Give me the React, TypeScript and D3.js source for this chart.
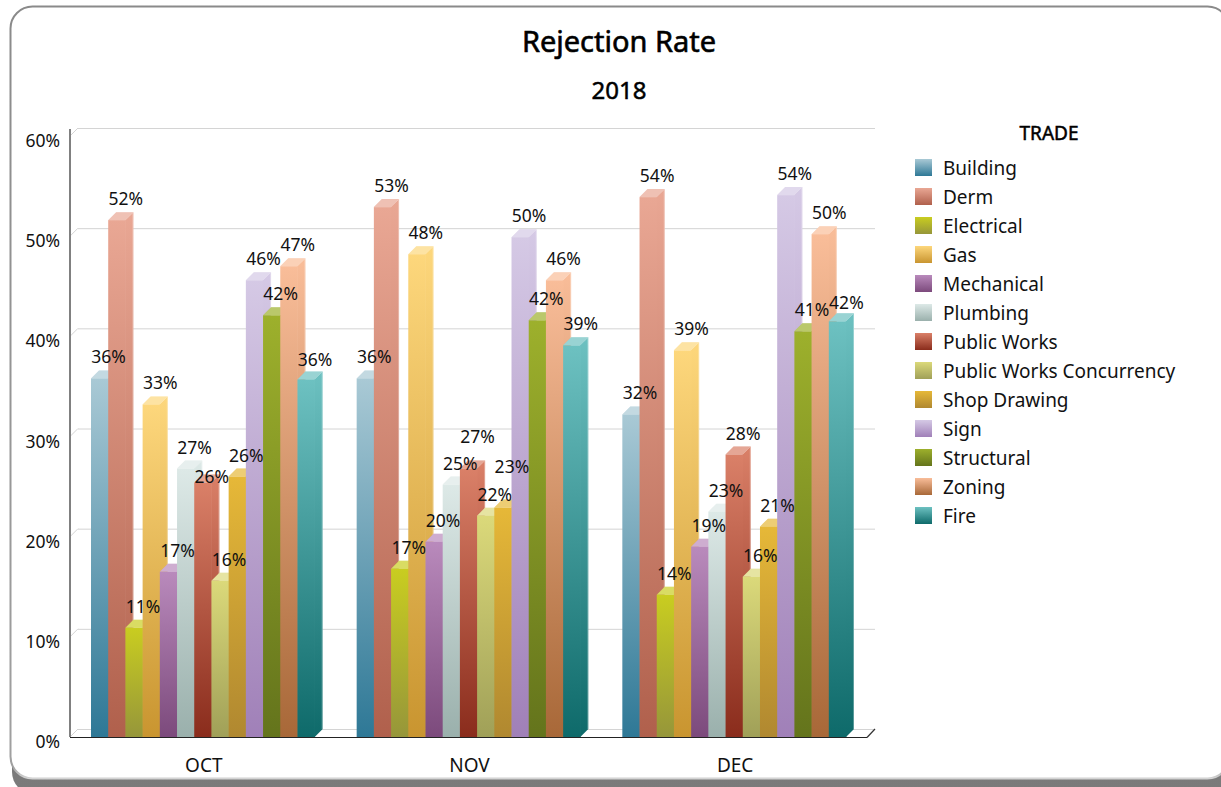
import React from "react";
import * as d3 from "d3";

const categories = ["OCT", "NOV", "DEC"];
const trades = ["Building","Derm","Electrical","Gas","Mechanical","Plumbing","Public Works","Public Works Concurrency","Shop Drawing","Sign","Structural","Zoning","Fire"];
const octValues = [35.8,51.6,10.9,33.2,16.5,26.8,25.4,15.6,26.0,45.6,42.1,47.0,35.7];
const novValues = [35.8,52.9,16.8,48.2,19.5,25.2,26.8,22.1,22.9,49.9,41.6,45.6,39.1];
const decValues = [32.2,53.9,14.2,38.6,19.0,22.5,28.2,16.0,21.0,54.1,40.5,50.2,41.5];
const octLabels = [36,52,11,33,17,27,26,16,26,46,42,47,36];
const novLabels = [36,53,17,48,20,25,27,22,23,50,42,46,39];
const decLabels = [32,54,14,39,19,23,28,16,21,54,41,50,42];
const topColors = ["#a9c9d5","#e9a794","#c9cd20","#fdd77c","#b98abc","#dde9e7","#da8068","#dbd97a","#e6b838","#d5c9e5","#9db02c","#f9bd99","#6dc1c1"];
const bottomColors = ["#2e7896","#b0604c","#96963a","#c99530","#7c4a7c","#9ab0ac","#8a2c1c","#a0a058","#b08830","#a080b8","#64741c","#a86838","#0e6a6a"];
const yTicks = [0,10,20,30,40,50,60];
// vertical shifts of the value labels that the source moves away from neighbours: "category/trade" -> px
const labelShift: Record<string, number> = {
  "OCT/Public Works": 15,
  "OCT/Fire": 2,
  "NOV/Public Works": -11,
  "NOV/Shop Drawing": -20,
  "DEC/Fire": 3,
};

const FONT = "'Noto Sans', sans-serif";
const depth = 8;
const y = d3.scaleLinear().domain([0, 60]).range([737, 136]);
const x0 = d3.scaleBand().domain(categories).range([70, 867]);
const x1 = d3.scaleBand().domain(trades).range([21, x0.bandwidth() - 21]);
const allValues = [octValues, novValues, decValues];
const allLabels = [octLabels, novLabels, decLabels];

export default function App() {
  const bw = x1.bandwidth();
  return (
    <svg width={1221} height={787} style={{ position: "absolute", left: 0, top: 0, background: "#fff" }} fontFamily={FONT} fill="#111">
      <defs>
        {trades.map((t, i) => (
          <linearGradient key={t} id={`g${i}`} x1="0" y1="0" x2="0" y2="1">
            <stop offset="0" stopColor={topColors[i]} />
            <stop offset="1" stopColor={bottomColors[i]} />
          </linearGradient>
        ))}
        <linearGradient id="frameStroke" x1="0" y1="0" x2="0" y2="1">
          <stop offset="0" stopColor="#8a8a8a" />
          <stop offset="0.985" stopColor="#a0a0a0" />
          <stop offset="1" stopColor="#d4d4d4" />
        </linearGradient>
        <linearGradient id="frameShadow" x1="0" y1="0" x2="0" y2="1">
          <stop offset="0" stopColor="#8c8c8c" />
          <stop offset="1" stopColor="#7a7a7a" />
        </linearGradient>
        <filter id="soft" x="-2%" y="-2%" width="104%" height="104%">
          <feGaussianBlur stdDeviation="0.7" />
        </filter>
      </defs>

      {/* frame */}
      <rect x={12} y={14} width={1222} height={780} rx={22} fill="url(#frameShadow)" />
      <rect x={10.5} y={6.5} width={1219} height={772} rx={22} fill="#fff" stroke="url(#frameStroke)" strokeWidth={2} filter="url(#soft)" />

      <text x={619} y={52} textAnchor="middle" fontSize={29} stroke="#000" strokeWidth={0.6} fill="#000">Rejection Rate</text>
      <text x={619} y={99} textAnchor="middle" fontSize={24} stroke="#000" strokeWidth={0.5} fill="#000">2018</text>

      {/* gridlines */}
      {yTicks.map((t) => (
        <g key={t}>
          <line x1={70} y1={y(t)} x2={70 + depth} y2={y(t) - depth} stroke="#d4d4d4" />
          <line x1={70 + depth} y1={y(t) - depth + 0.5} x2={867 + depth} y2={y(t) - depth + 0.5} stroke="#d4d4d4" />
          <text x={60} y={y(t) + 11} textAnchor="end" fontSize={17.5}>{t}%</text>
        </g>
      ))}

      {/* axes */}
      <line x1={70} y1={129} x2={70} y2={737} stroke="#808080" strokeWidth={2} />
      <line x1={70} y1={737.5} x2={867} y2={737.5} stroke="#222" strokeWidth={1.2} />
      <line x1={867} y1={737.5} x2={875} y2={729} stroke="#333" strokeWidth={1.2} />

      {/* bars */}
      {categories.map((c, ci) => (
        <g key={c} transform={`translate(${x0(c)},0)`}>
          {trades.map((t, i) => {
            const v = allValues[ci][i];
            const xl = x1(t)!;
            const xr = xl + bw;
            const top = y(v);
            const base = y(0);
            const side = `M${xr - 0.3},${top}L${xr + depth},${top - depth}L${xr + depth},${base - depth}L${xr},${base}L${xr - 0.3},${base}Z`;
            const cap = `M${xl},${top}L${xl + depth},${top - depth}L${xr + depth},${top - depth}L${xr},${top}Z`;
            return (
              <g key={t}>
                <path d={side} fill={`url(#g${i})`} />
                <line x1={xr + depth - 0.5} y1={top - depth} x2={xr + depth - 0.5} y2={base - depth} stroke="#fff" strokeOpacity={0.3} />
                <path d={cap} fill={topColors[i]} />
                <path d={cap} fill="#fff" opacity={0.3} />
                <rect x={xl} y={top} width={bw + 0.3} height={base - top} fill={`url(#g${i})`} />
              </g>
            );
          })}
        </g>
      ))}

      {/* value labels */}
      {categories.map((c, ci) => (
        <g key={c} transform={`translate(${x0(c)},0)`}>
          {trades.map((t, i) => (
            <text key={t} x={x1(t)! + bw / 2 + 9} y={y(allValues[ci][i]) - 15 + (labelShift[`${c}/${t}`] ?? 0)} textAnchor="middle" fontSize={17.5}>
              {allLabels[ci][i]}%
            </text>
          ))}
          <text x={x0.bandwidth() / 2 + 1} y={772} textAnchor="middle" fontSize={19}>{c}</text>
        </g>
      ))}

      {/* legend */}
      <text x={1049} y={140} textAnchor="middle" fontSize={19} stroke="#000" strokeWidth={0.5} fill="#000">TRADE</text>
      {trades.map((t, i) => (
        <g key={t} transform={`translate(915,${159 + i * 29})`}>
          <rect width={17} height={17} fill={`url(#g${i})`} />
          <text x={28} y={16} fontSize={19}>{t}</text>
        </g>
      ))}
    </svg>
  );
}
